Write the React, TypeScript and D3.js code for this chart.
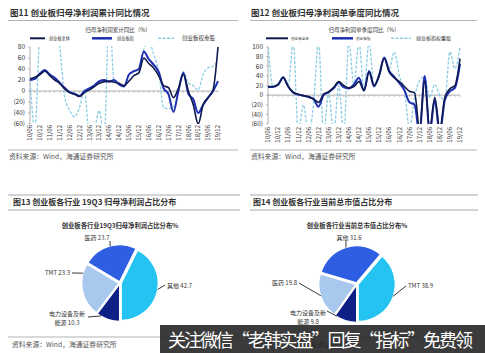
import React from 'react';
import * as d3 from 'd3';

// x-axis tick labels (every half year), data is quarterly from 10/06
const halfYearLabels = ['10/06', '10/12', '11/06', '11/12', '12/06', '12/12', '13/06', '13/12', '14/06', '14/12',
  '15/06', '15/12', '16/06', '16/12', '17/06', '17/12', '18/06', '18/12', '19/06', '19/12'];

// 图11 cumulative YoY (%)
const cumAll = [22, 25, 30, 36, 28, 20, 14, 4, -3, -6, -10, -3, 2, 8, 14, 17, 18, 16, 14, 10, 18, 28, 33, 60, 50, 42, 28, 10, 6, -12, 5, 30, 0, -25, -60, -25, -12, 2, 80];
const cumIndex = [20, 22, 32, 38, 30, 24, 15, 6, -2, -5, -9, 0, 5, 10, 18, 20, 17, 20, 12, 8, 30, 36, 40, 72, 58, 48, 35, 5, -6, -38, 0, 33, -5, -15, -40, -25, -12, 0, 18];
const cumWeights = [22, -70, 110, 150, 150, 120, 80, -10, -35, -47, -30, 0, -80, -70, -36, -90, 150, 18, 14, 8, 28, 35, 40, 75, 90, 67, 35, -30, -32, -30, 0, 35, 15, 10, 2, 30, 42, 45, 55];

// 图12 single quarter YoY (%)
const qtrAll = [18, 18, 22, 36, 18, 6, 2, -1, -3, -8, -15, 2, 7, 16, 28, 20, 15, 18, 28, 10, 48, 20, 40, 76, 48, 36, 28, 18, 8, 5, -70, 30, -70, -5, -70, -5, 13, 20, 76];
const qtrIndex = [17, 17, 22, 37, 18, 5, 1, -1, -4, -8, -24, 0, 6, 14, 26, 16, 14, 22, 36, 9, 50, 18, 42, 78, 50, 38, 25, 10, -15, -20, -80, 40, -80, -10, -80, -10, 8, 15, 65];
const qtrWeights = [110, 18, 20, 35, 20, 110, -80, -20, -80, -20, 110, -80, 5, -80, 20, -80, 110, 20, 110, 10, 110, 20, 45, 75, 55, 90, 40, 10, -70, -5, 30, 38, -5, 22, 0, -10, 90, 55, 100];

// 图13 / 图14 pies
const profitNames = ['其他', '电力设备及新能源', 'TMT', '医药'];
const profitShare = [42.7, 10.3, 23.3, 23.7];
const capNames = ['TMT', '电力设备及新能源', '医药', '其他'];
const capShare = [38.9, 9.8, 19.8, 31.6];

const FONT = '"Noto Sans CJK SC", "Noto Sans", sans-serif';
const NAVY = '#0f1a4e';
const BLUE = '#1d2fb2';
const DASH = '#8cccE4';
const sliceColors = ['#24c3f1', '#0e1f86', '#a8c8ee', '#2e5fe2'];

function LineChart({ x0, x1, yTop, yBot, vMax, vMin, series, clipId, xLabelY }: any) {
  const n = series[0].length;
  const x = d3.scaleLinear().domain([0, n - 1]).range([x0, x1]);
  const y = d3.scaleLinear().domain([vMin, vMax]).range([yBot, yTop]);
  const gen = (d: number[]) => d3.line<number>().x((_, i) => x(i)).y(v => y(v)).curve(d3.curveMonotoneX)(d) || '';
  const yTicks = d3.range(vMin, vMax + 1, 20);
  const fmt = (v: number) => (v < 0 ? `(${-v})` : `${v}`);
  return (
    <g>
      <defs>
        <clipPath id={clipId}>
          <rect x={x0} y={yTop - 1} width={x1 - x0 + 3} height={yBot - yTop + 1} />
        </clipPath>
      </defs>
      <line x1={x0} x2={x0} y1={yTop} y2={yBot} stroke="#999" strokeWidth={0.8} />
      {yTicks.map(t => (
        <g key={t}>
          <line x1={x0 - 2} x2={x0} y1={y(t)} y2={y(t)} stroke="#999" strokeWidth={0.6} />
          <text x={x0 - 5} y={y(t)} dy="0.35em" textAnchor="end" fontSize={6.5} fill="#333">{fmt(t)}</text>
        </g>
      ))}
      <line x1={x0} x2={x1} y1={y(0)} y2={y(0)} stroke="#999" strokeWidth={0.8} />
      {d3.range(n).map(i => (
        <line key={i} x1={x(i)} x2={x(i)} y1={y(0)} y2={y(0) + 2} stroke="#999" strokeWidth={0.5} />
      ))}
      {halfYearLabels.map((l, k) => (
        <text key={l} transform={`translate(${x(k * 2) + 2.2},${xLabelY}) rotate(-90)`} textAnchor="end" fontSize={6} fill="#333">{l}</text>
      ))}
      <g clipPath={`url(#${clipId})`}>
        <path d={gen(series[2])} stroke={DASH} strokeWidth={1.3} strokeDasharray="3,1.5" fill="none" />
        <path d={gen(series[1])} stroke={BLUE} strokeWidth={2} fill="none" />
        <path d={gen(series[0])} stroke={NAVY} strokeWidth={1.6} fill="none" />
      </g>
    </g>
  );
}

function Legend({ y, items }: any) {
  const styles = [
    { stroke: NAVY, w: 2, dash: undefined },
    { stroke: BLUE, w: 2.5, dash: undefined },
    { stroke: DASH, w: 1.6, dash: '3,1.5' },
  ];
  return (
    <g>
      {items.map((it: any, i: number) => (
        <g key={i}>
          <line x1={it.x1} x2={it.x2} y1={y} y2={y} stroke={styles[i].stroke} strokeWidth={styles[i].w} strokeDasharray={styles[i].dash} />
          <text x={it.tx} y={y} dy="0.35em" fontSize={it.fs} fill="#333">{it.label}</text>
        </g>
      ))}
    </g>
  );
}

function Pie({ cx, cy, r, values, names, layout }: any) {
  const sum = d3.sum(values as number[]);
  const start = Math.PI - (values[0] / sum) * 2 * Math.PI;
  const arcs = d3.pie<number>().sort(null).startAngle(start).endAngle(start + 2 * Math.PI)(values);
  const arc = d3.arc<d3.PieArcDatum<number>>().innerRadius(0).outerRadius(r);
  return (
    <g>
      {arcs.map((a, i) => {
        const m = (a.startAngle + a.endAngle) / 2;
        const off = 1.3;
        return (
          <path key={i} d={arc(a) || ''} fill={sliceColors[i]} stroke="#fff" strokeWidth={1.2}
            transform={`translate(${cx + off * Math.sin(m)},${cy - off * Math.cos(m)})`} />
        );
      })}
      {arcs.map((a, i) => {
        const L = layout[i];
        const e = (L.edge * Math.PI) / 180;
        const ex = cx + (r + 1) * Math.sin(e);
        const ey = cy - (r + 1) * Math.cos(e);
        const name = names[i];
        const lines = name.length > 4 ? [name.slice(0, 6), `${name.slice(6)} ${values[i]}`] : [`${name} ${values[i]}`];
        return (
          <g key={'l' + i}>
            <line x1={ex} y1={ey} x2={L.ax} y2={L.ay} stroke="#222" strokeWidth={0.9} />
            {lines.map((t: string, k: number) => (
              <text key={k} x={L.tx} y={L.ty + k * 9} textAnchor={L.anchor} fontSize={6} fill="#333">{t}</text>
            ))}
          </g>
        );
      })}
    </g>
  );
}

export default function App() {
  const src = '资料来源：Wind，海通证券研究所';
  return (
    <svg width={485} height={353} style={{ position: 'absolute', left: 0, top: 0, background: '#fff' }} fontFamily={FONT}>
      <rect width={485} height={353} fill="#fff" />

      {/* 图11 */}
      <text x={10} y={15.5} fontSize={8.5} fontWeight="bold" fill="#333">图11 创业板归母净利润累计同比情况</text>
      <line x1={8} x2={238} y1={20.5} y2={20.5} stroke="#aaa" strokeWidth={0.9} />
      <text x={118} y={32} textAnchor="middle" fontSize={5.5} fill="#333">归母净利润累计同比（%）</text>
      <Legend y={38.3} items={[
        { x1: 30, x2: 45, tx: 49, label: '创业板全体', fs: 4.2 },
        { x1: 92, x2: 112, tx: 117, label: '创业板指', fs: 4.2 },
        { x1: 158, x2: 174, tx: 182, label: '创业板权重股', fs: 5.5 },
      ]} />
      <LineChart x0={30} x1={218} yTop={47} yBot={124} vMax={80} vMin={-60}
        series={[cumAll, cumIndex, cumWeights]} clipId="c11" xLabelY={125} />
      <line x1={8} x2={238} y1={150} y2={150} stroke="#aaa" strokeWidth={0.9} />
      <text x={9} y={159} fontSize={6.8} fill="#555">{src}</text>

      {/* 图12 */}
      <text x={251} y={15.5} fontSize={8.5} fontWeight="bold" fill="#333">图12 创业板归母净利润单季度同比情况</text>
      <line x1={250} x2={477} y1={20.5} y2={20.5} stroke="#aaa" strokeWidth={0.9} />
      <text x={364} y={32} textAnchor="middle" fontSize={5.5} fill="#333">归母净利润单季度同比（%）</text>
      <Legend y={38.3} items={[
        { x1: 266, x2: 288, tx: 291, label: '创业板全体', fs: 3.6 },
        { x1: 332, x2: 353, tx: 356, label: '创业板指', fs: 3.6 },
        { x1: 391, x2: 411, tx: 416, label: '创业板指权重股', fs: 5 },
      ]} />
      <LineChart x0={268} x1={460} yTop={47} yBot={124} vMax={100} vMin={-60}
        series={[qtrAll, qtrIndex, qtrWeights]} clipId="c12" xLabelY={127} />
      <line x1={250} x2={477} y1={150} y2={150} stroke="#aaa" strokeWidth={0.9} />
      <text x={251} y={159} fontSize={6.8} fill="#555">{src}</text>

      {/* 图13 */}
      <line x1={8} x2={240} y1={195} y2={195} stroke="#aaa" strokeWidth={1.2} />
      <text x={13} y={205} fontSize={8} fontWeight="bold" fill="#333">图13 创业板各行业 19Q3 归母净利润占比分布</text>
      <line x1={8} x2={240} y1={210} y2={210} stroke="#aaa" strokeWidth={1.2} />
      <text x={120} y={227.5} textAnchor="middle" fontSize={6.3} fontWeight="bold" fill="#333">创业板各行业19Q3归母净利润占比分布%</text>
      <Pie cx={120} cy={283} r={37} values={profitShare} names={profitNames} layout={[
        { tx: 167, ty: 287.5, anchor: 'start', ax: 165, ay: 285, edge: 100 },
        { tx: 67, ty: 315.5, anchor: 'middle', ax: 88, ay: 317, edge: 210 },
        { tx: 70, ty: 275, anchor: 'end', ax: 72, ay: 273, edge: 285 },
        { tx: 97, ty: 239.5, anchor: 'middle', ax: 110, ay: 241, edge: 345 },
      ]} />
      <line x1={8} x2={240} y1={337} y2={337} stroke="#aaa" strokeWidth={0.9} />
      <text x={12} y={347} fontSize={6.8} fill="#555">{src}</text>

      {/* 图14 */}
      <line x1={250} x2={478} y1={195} y2={195} stroke="#aaa" strokeWidth={1.2} />
      <text x={253} y={205} fontSize={8} fontWeight="bold" fill="#333">图14 创业板各行业当前总市值占比分布</text>
      <line x1={250} x2={478} y1={210} y2={210} stroke="#aaa" strokeWidth={1.2} />
      <text x={357} y={227.5} textAnchor="middle" fontSize={6.3} fontWeight="bold" fill="#333">创业板各行业当前总市值占比分布%</text>
      <Pie cx={357} cy={284} r={37} values={capShare} names={capNames} layout={[
        { tx: 408, ty: 287.5, anchor: 'start', ax: 406, ay: 286, edge: 109 },
        { tx: 308, ty: 314.5, anchor: 'middle', ax: 327, ay: 311, edge: 212 },
        { tx: 297, ty: 284.5, anchor: 'end', ax: 299, ay: 283, edge: 252 },
        { tx: 349, ty: 239.5, anchor: 'middle', ax: 346, ay: 241, edge: 343 },
      ]} />
      <line x1={250} x2={478} y1={337} y2={337} stroke="#aaa" strokeWidth={0.9} />
      <text x={253} y={347} fontSize={6.8} fill="#555">{src}</text>

      {/* watermark banner */}
      <rect x={160} y={325} width={325} height={28} fill="#262626" fillOpacity={0.9} />
      <text x={168} y={346.5} fontSize={18} fill="#fff" textLength={305} lengthAdjust="spacing">关注微信“老韩实盘”回复“指标”免费领</text>
    </svg>
  );
}
